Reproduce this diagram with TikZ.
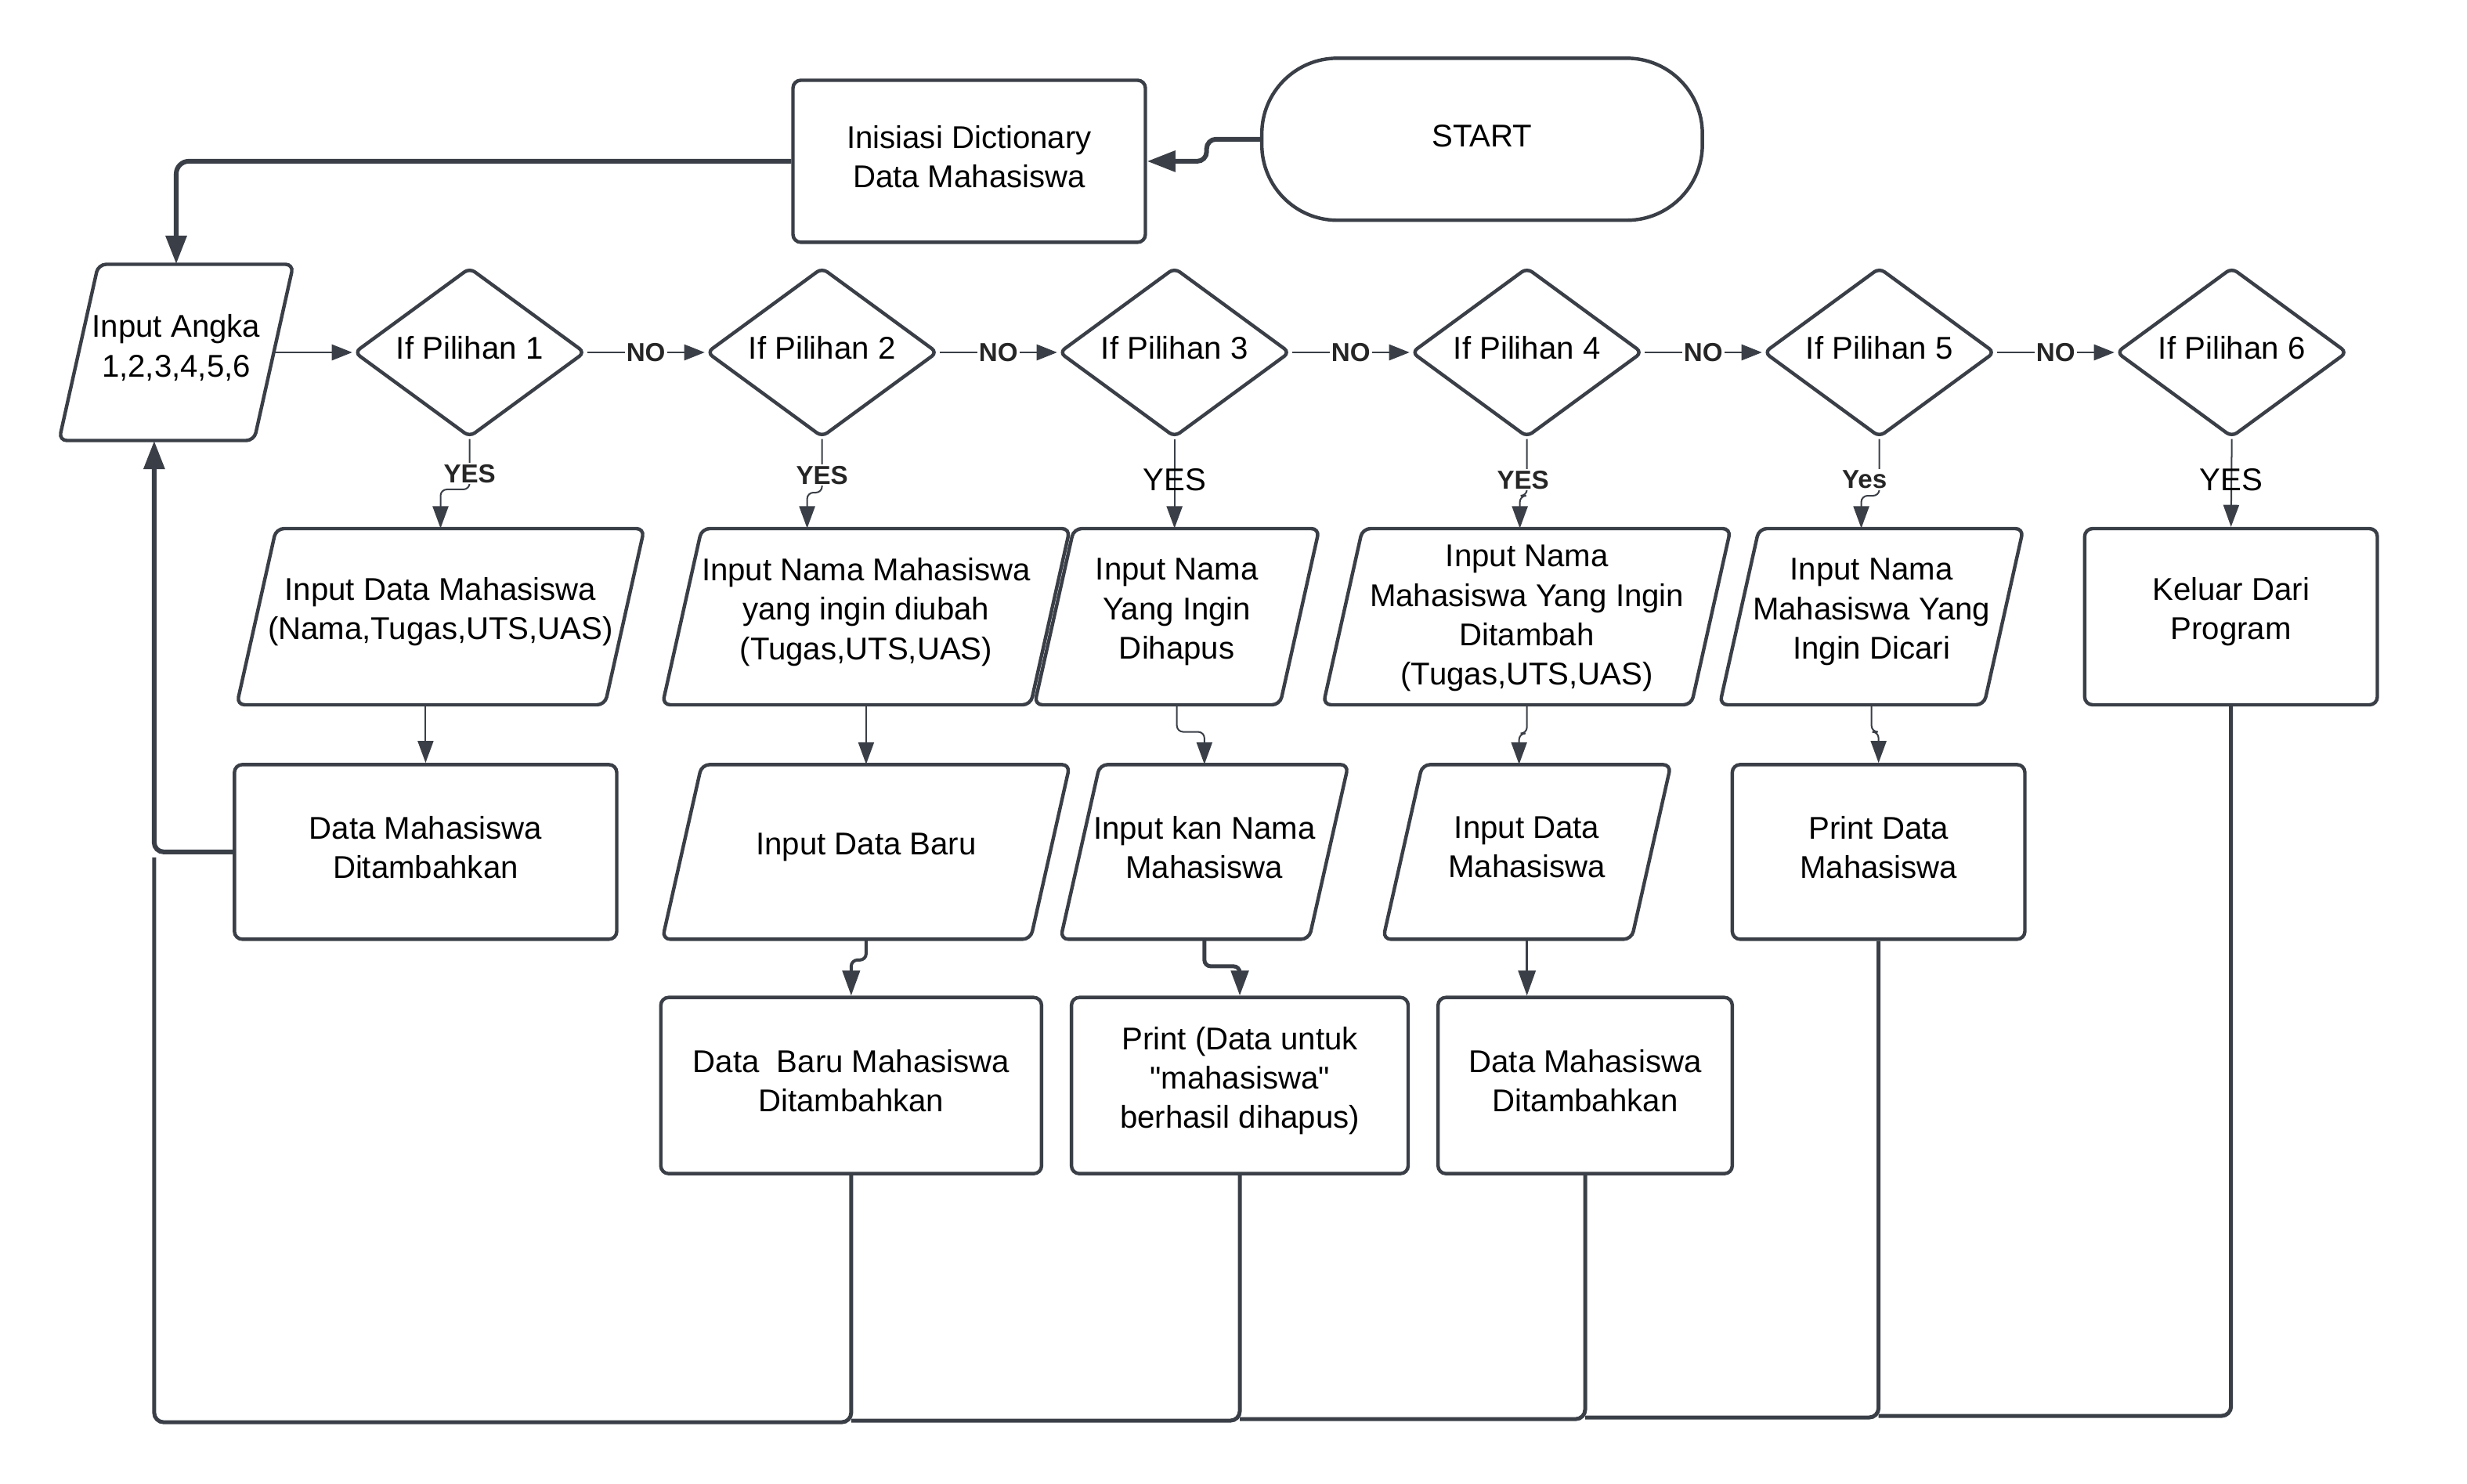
\documentclass[tikz,border=0pt]{standalone}
\usepackage{fontspec}
\setmainfont{Liberation Sans}[Ligatures=TeXOff]
\usetikzlibrary{shapes.geometric,arrows.meta}
\definecolor{lc}{RGB}{58,63,71}
\newcommand\parabox[7][]{%
  \draw[lc, line width=2.2pt, rounded corners=5pt]
    ({#3-#5/2+12.5},{#4-#6/2}) -- ({#3+#5/2+12.5},{#4-#6/2}) --
    ({#3+#5/2-12.5},{#4+#6/2}) -- ({#3-#5/2-12.5},{#4+#6/2}) -- cycle;
  \node[pnode, minimum width=#5pt, minimum height=#6pt] (#2) at (#3,#4) {};
  \node[txt,#1] (#2t) at (#2.center) {#7};
}
\newcommand\rbox[6]{%
  \node[box, minimum width=#4pt, minimum height=#5pt] (#1) at (#2,#3) {};
  \node[txt] (#1t) at (#1.center) {#6};
}
\newcommand\dbox[3]{%
  \node[dia] (#1) at (#2,224) {};
  \node[txt] (#1t) at (#1.center) {#3};
}
\begin{document}
\begin{tikzpicture}[x=1pt,y=-1pt,
  font=\fontsize{20}{25}\selectfont,
  txt/.style={align=center, inner sep=0pt, yshift=3pt, text=black},
  box/.style={draw=lc, line width=2.2pt, rounded corners=5pt, inner sep=0pt},
  pnode/.style={inner sep=0pt},
  dia/.style={diamond, draw=lc, line width=2.2pt, rounded corners=4pt, shape aspect=1.36,
    minimum width=147pt, minimum height=108pt, inner sep=0pt},
  bigarr/.style={draw=lc, line width=3pt, rounded corners=6pt, -{Triangle[length=18pt,width=13pt]}},
  noarr/.style={draw=lc, line width=1.2pt, -{Triangle[length=13pt,width=10pt]}},
  yesarr/.style={draw=lc, line width=1pt, rounded corners=4pt, -{Triangle[length=14pt,width=10pt]}},
  midarr/.style={draw=lc, rounded corners=4pt, -{Triangle[length=16pt,width=11pt]}},
  ret/.style={draw=lc, line width=2.5pt, rounded corners=6pt},
  nolab/.style={font=\fontsize{16.5}{18}\selectfont\bfseries, text=black!85, fill=white, inner sep=1pt},
  yeslab/.style={font=\fontsize{16.5}{18}\selectfont\bfseries, text=black!85, fill=white, inner sep=1pt},
  yesbig/.style={text=black, inner sep=0pt}
]
\useasboundingbox (0,0) rectangle (1568,942.8);

% top row
\node[box, rounded corners=48pt, minimum width=280pt, minimum height=103pt] (start) at (942,88.5) {};
\node[txt, yshift=-1pt] (startt) at (start.center) {START};
\rbox{init}{616}{102.5}{224}{103}{Inisiasi Dictionary\\Data Mahasiswa}
\parabox{ia}{112}{224}{124}{112}{Input Angka\\1,2,3,4,5,6}

% diamonds
\dbox{d1}{298.5}{If Pilihan 1}
\dbox{d2}{522.5}{If Pilihan 2}
\dbox{d3}{746.5}{If Pilihan 3}
\dbox{d4}{970.5}{If Pilihan 4}
\dbox{d5}{1194.5}{If Pilihan 5}
\dbox{d6}{1418.5}{If Pilihan 6}

% second row
\parabox{b1}{280}{392}{234}{112}{Input Data Mahasiswa\\(Nama,Tugas,UTS,UAS)}
\parabox{b2}{550.5}{392}{234}{112}{Input Nama Mahasiswa\\yang ingin diubah\\(Tugas,UTS,UAS)}
\parabox{b3}{748}{392}{156}{112}{Input Nama\\Yang Ingin\\Dihapus}
\parabox[yshift=-4pt]{b4}{970.5}{392}{234}{112}{Input Nama\\Mahasiswa Yang Ingin\\Ditambah\\(Tugas,UTS,UAS)}
\parabox{b5}{1189.5}{392}{168}{112}{Input Nama\\Mahasiswa Yang\\Ingin Dicari}
\rbox{b6}{1418}{392}{186}{112}{Keluar Dari\\Program}

% third row
\rbox{c1}{270.5}{541.5}{243}{111}{Data Mahasiswa\\Ditambahkan}
\parabox{c2}{550.5}{541.5}{234}{111}{Input Data Baru}
\parabox{c3}{765.5}{541.5}{158}{111}{Input kan Nama\\Mahasiswa}
\parabox{c4}{970.5}{541.5}{158}{111}{Input Data\\Mahasiswa}
\rbox{c5}{1194}{541.5}{186}{111}{Print Data\\Mahasiswa}

% fourth row
\rbox{d2b}{541}{690}{242}{112}{Data~~Baru Mahasiswa\\Ditambahkan}
\rbox{d3b}{788}{690}{214}{112}{Print (Data untuk\\"mahasiswa"\\berhasil dihapus)}
\rbox{d4b}{1007.5}{690}{187}{112}{Data Mahasiswa\\Ditambahkan}

% top connectors
\draw[bigarr] (start.west) -- ++(-34,0) |- (init.east);
\draw[bigarr, rounded corners=8pt] (init.west) -| (ia.north);
\draw[noarr] (ia.east) -- (d1.west);

% NO connectors
\draw[noarr] (d1.east) -- node[nolab]{NO} (d2.west);
\draw[noarr] (d2.east) -- node[nolab]{NO} (d3.west);
\draw[noarr] (d3.east) -- node[nolab]{NO} (d4.west);
\draw[noarr] (d4.east) -- node[nolab]{NO} (d5.west);
\draw[noarr] (d5.east) -- node[nolab]{NO} (d6.west);

% YES connectors
\draw[yesarr] (d1.south) -- ++(0,32) -| (b1.north);
\node[yeslab] (y1) at (298.5,301) {YES};
\draw[yesarr] (d2.south) -- ++(0,34) -| ([xshift=-37.5pt]b2.north);
\node[yeslab] (y2) at (522.5,302) {YES};
\draw[yesarr] (d3.south) -- (d3.south |- b3.north);
\node[yesbig] (y3) at (746.5,305) {YES};
\draw[yesarr] (d4.south) -- ++(0,36) -| ([xshift=-4.5pt]b4.north);
\node[yeslab] (y4) at (968,305) {YES};
\draw[yesarr] (d5.south) -- ++(0,36) -| ([xshift=-6.5pt]b5.north);
\node[yeslab] (y5) at (1185,305) {Yes};
\draw[yesarr] (d6.south) -- (b6.north);
\node[yesbig] (y6) at (1418,305) {YES};

% row 2 -> row 3
\draw[yesarr] (c1.north |- b1.south) -- (c1.north);
\draw[yesarr] (b2.south) -- (c2.north);
\draw[yesarr] (b3.south) -- ++(0,17) -| (c3.north);
\draw[yesarr] (b4.south) -- ++(0,18) -| ([xshift=-5pt]c4.north);
\draw[yesarr] (b5.south) -- ++(0,17) -| (c5.north);

% row 3 -> row 4
\draw[midarr, line width=2pt] (c2.south) -- ++(0,13) -| (d2b.north);
\draw[midarr, line width=2.5pt] (c3.south) -- ++(0,17) -| (d3b.north);
\draw[midarr, line width=1.5pt] (c4.south) -- (c4.south |- d4b.north);

% return lines
\coordinate (yb1) at (0,900);
\coordinate (yb2) at (0,901);
\coordinate (yb3) at (0,902);
\coordinate (yb4) at (0,903);
\coordinate (yb5) at (98,904);
\coordinate (yc) at (98,545);
\draw[ret] (b6.south) |- (c5.south |- yb1);
\draw[ret] (c5.south) |- (d4b.south |- yb2);
\draw[ret] (d4b.south) |- (d3b.south |- yb3);
\draw[ret] (d3b.south) |- (d2b.south |- yb4);
\draw[ret] (d2b.south) |- (yb5) -- (yc);
\draw[bigarr] (c1.west) -| ([xshift=-14pt]ia.south);
\end{tikzpicture}
\end{document}
